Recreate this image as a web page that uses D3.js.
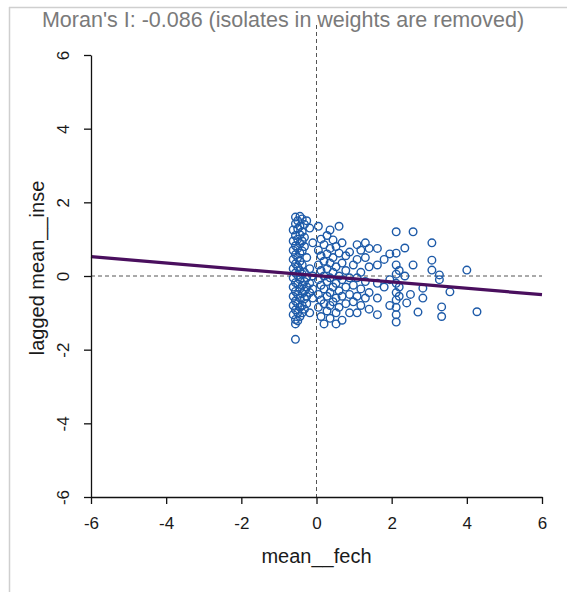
<!DOCTYPE html>
<html>
<head>
<meta charset="utf-8">
<script src="https://cdn.jsdelivr.net/npm/d3@7"></script>
<style>
body { margin: 0; background: #fff; }
svg { display: block; }
</style>
</head>
<body>
<svg id="chart" width="567" height="592"></svg>
<script>
// Moran scatter: mean__fech vs lagged mean__inse
var titleText = "Moran's I: -0.086 (isolates in weights are removed)";
var xLabel = "mean__fech";
var yLabel = "lagged mean__inse";
var tickValues = [-6, -4, -2, 0, 2, 4, 6];
var moranSlope = -0.086;
var moranIntercept = 0.01;

// point columns: x value and the lagged y values at that x
var colX = [-0.62, -0.56, -0.5, -0.44, -0.38, -0.32, -0.26, -0.18, -0.1,
    0.05, 0.12, 0.2, 0.28, 0.36, 0.44, 0.52, 0.6, 0.68, 0.78, 0.88, 0.98,
    1.08, 1.18, 1.3, 1.4, 1.62, 1.8, 1.95, 2.12, 2.2, 2.35, 2.4, 2.5, 2.57,
    2.7, 2.83, 3.07, 3.27, 3.33, 3.55, 4.0, 4.27];
var colY = [
    [1.25, 0.95, 0.7, 0.45, 0.2, -0.05, -0.3, -0.55, -0.8, -1.05],
    [1.6, 1.42, 1.1, 0.82, 0.58, 0.33, 0.08, -0.18, -0.42, -0.68, -0.92, -1.18, -1.3, -1.72],
    [1.5, 1.28, 1.0, 0.75, 0.5, 0.25, 0.02, -0.22, -0.5, -0.75, -1.0, -1.22],
    [1.62, 1.35, 1.12, 0.88, 0.62, 0.4, 0.15, -0.1, -0.35, -0.6, -0.85, -1.1],
    [1.55, 1.2, 0.95, 0.68, 0.3, 0.05, -0.25, -0.48, -0.8, -1.0],
    [1.4, 1.05, 0.8, 0.1, -0.15, -0.4, -0.62, -0.9],
    [1.5, 0.5, -0.05, -0.3, -0.55, -0.75],
    [1.3, 0.2, -0.2, -0.45, -1.0],
    [0.9, 0.0, -0.35, -0.6],
    [1.35, 0.7, 0.3, -0.1, -0.5, -0.85],
    [1.0, 0.55, 0.15, -0.25, -0.65, -1.1],
    [0.85, 0.4, 0.0, -0.35, -0.75, -1.3],
    [1.1, 0.6, 0.2, -0.15, -0.55, -0.95],
    [1.25, 0.75, 0.35, -0.05, -0.45, -0.8, -1.15],
    [0.98, 0.5, 0.1, -0.3, -0.7],
    [0.8, 0.25, -0.2, -0.6, -1.0, -1.3],
    [1.35, 0.62, 0.0, -0.4, -0.85],
    [0.9, 0.35, -0.1, -0.55, -1.2],
    [0.55, 0.15, -0.3, -0.75],
    [0.65, -0.05, -0.5, -1.0],
    [0.3, -0.25, -0.7],
    [0.85, 0.45, -0.05, -0.55, -1.0],
    [0.7, 0.1, -0.35, -0.8],
    [0.9, 0.5, -0.15, -0.6],
    [0.75, 0.25, -0.45, -0.9],
    [0.75, 0.3, -0.2, -0.6, -1.05],
    [0.45, -0.3],
    [0.6, -0.1, -0.8],
    [1.2, 0.62, 0.3, 0.05, -0.2, -0.45, -0.65, -0.85, -1.05, -1.25],
    [0.15, -0.3, -0.55],
    [0.76, 0.0],
    [-0.73],
    [-0.5],
    [1.2, 0.3],
    [-0.98],
    [-0.33, -0.6],
    [0.9, 0.43, 0.16],
    [0.03, -0.1],
    [-0.84, -1.1],
    [-0.43],
    [0.16],
    [-0.97]
];

var svg = d3.select("#chart");
var plotLeft = 91, plotRight = 542, plotTop = 55, plotBottom = 497;
var fontFam = "Liberation Sans, Arial, sans-serif";

var x = d3.scaleLinear().domain([-6, 6]).range([plotLeft, plotRight]);
var y = d3.scaleLinear().domain([-6, 6]).range([plotBottom, plotTop]);

var points = [];
colX.forEach(function (cx, i) {
    colY[i].forEach(function (cy) {
        points.push({x: cx, y: cy});
    });
});

// frame lines of the screenshot
svg.append("line").attr("x1", 9).attr("x2", 567).attr("y1", 7.5).attr("y2", 7.5)
        .attr("stroke", "#cfcfcf").attr("stroke-width", 1.5);
svg.append("line").attr("x1", 9.5).attr("x2", 9.5).attr("y1", 7).attr("y2", 592)
        .attr("stroke", "#cfcfcf").attr("stroke-width", 1.5);

// dashed zero lines
svg.append("line").attr("x1", x(0)).attr("x2", x(0)).attr("y1", plotTop - 30).attr("y2", plotBottom)
        .attr("stroke", "#555").attr("stroke-dasharray", "4,3").attr("stroke-width", 1);
svg.append("line").attr("x1", plotLeft).attr("x2", plotRight).attr("y1", y(0)).attr("y2", y(0))
        .attr("stroke", "#555").attr("stroke-dasharray", "4,3").attr("stroke-width", 1);

svg.append("g").selectAll("circle").data(points).enter().append("circle")
        .attr("cx", function (d) { return x(d.x); })
        .attr("cy", function (d) { return y(d.y); })
        .attr("r", 3.8)
        .attr("fill", "none")
        .attr("stroke", "#1d5aa8")
        .attr("stroke-width", 1.4);

// regression line
svg.append("line")
        .attr("x1", x(-6)).attr("y1", y(moranIntercept + moranSlope * -6))
        .attr("x2", x(6)).attr("y2", y(moranIntercept + moranSlope * 6))
        .attr("stroke", "#4a0f5e").attr("stroke-width", 3.2);

var fmt = function (d) { return String(d); };
var xAxis = svg.append("g").attr("transform", "translate(0," + plotBottom + ")")
        .call(d3.axisBottom(x).tickValues(tickValues).tickFormat(fmt).tickSize(7).tickSizeOuter(0).tickPadding(13));
var yAxis = svg.append("g").attr("transform", "translate(" + plotLeft + ",0)")
        .call(d3.axisLeft(y).tickValues(tickValues).tickFormat(fmt).tickSize(7).tickSizeOuter(0));

[xAxis, yAxis].forEach(function (g) {
    g.select(".domain").attr("stroke", "#111").attr("stroke-width", 1.3);
    g.selectAll(".tick line").attr("stroke", "#111").attr("stroke-width", 1.3);
    g.selectAll("text").attr("font-family", fontFam)
            .attr("font-size", 17).attr("fill", "#1a1a1a");
});
yAxis.selectAll(".tick text")
        .attr("x", null).attr("dy", null)
        .attr("text-anchor", "middle")
        .attr("transform", "translate(-28,0) rotate(-90)")
        .attr("dy", "0.35em");

svg.append("text").attr("x", 283).attr("y", 27)
        .attr("text-anchor", "middle")
        .attr("font-family", fontFam)
        .attr("font-size", 21.5).attr("fill", "#7a7a7a")
        .text(titleText);

svg.append("text").attr("x", (plotLeft + plotRight) / 2).attr("y", 563)
        .attr("text-anchor", "middle")
        .attr("font-family", fontFam)
        .attr("font-size", 20).attr("fill", "#1a1a1a")
        .text(xLabel);

svg.append("text").attr("transform", "translate(44," + ((plotTop + plotBottom) / 2 - 8) + ") rotate(-90)")
        .attr("text-anchor", "middle")
        .attr("font-family", fontFam)
        .attr("font-size", 20).attr("fill", "#1a1a1a")
        .text(yLabel);
</script>
</body>
</html>
